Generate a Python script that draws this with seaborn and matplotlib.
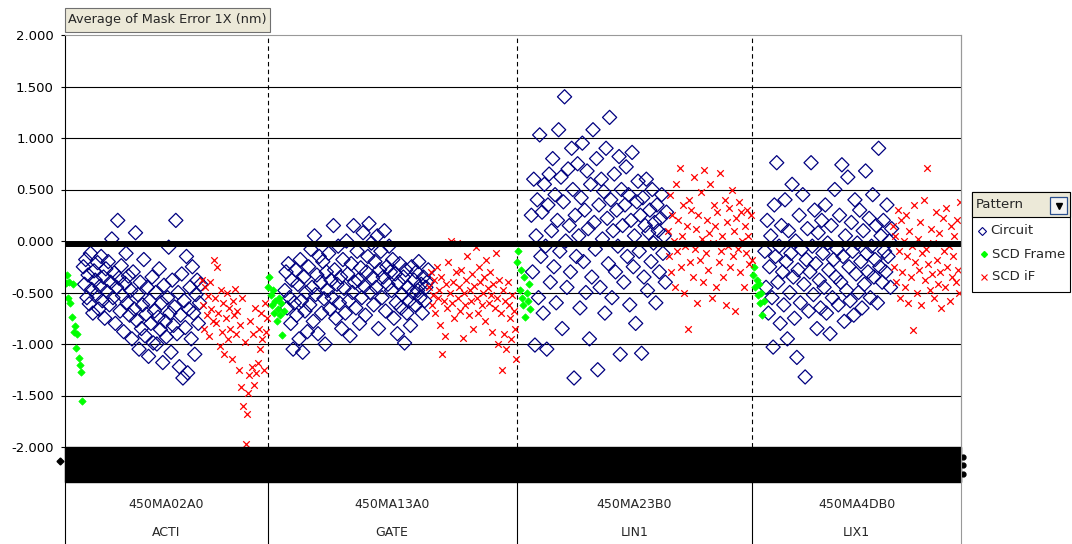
import numpy as np
import pandas as pd
import matplotlib.pyplot as plt
import seaborn as sns
from matplotlib.lines import Line2D
from matplotlib.patches import Rectangle

# category axis: lot / layer
lots = ["450MA02A0", "450MA13A0", "450MA23B0", "450MA4DB0"]
layers = ["ACTI", "GATE", "LIN1", "LIX1"]

# Average of Mask Error 1X (nm), left to right in each group
frame_acti = [-0.41, -0.33, -0.55, -0.40, -0.60, -0.74, -0.42, -0.88, -0.83, -1.04,
              -0.90, -1.14, -1.20, -1.27, -1.55]
circuit_acti = [-0.25, -0.42, -0.18, -0.55, -0.33, -0.61, -0.12, -0.47, -0.70, -0.29,
                -0.38, -0.52, -0.21, -0.66, -0.44, -0.15, -0.58, -0.35, -0.75, -0.27,
                -0.49, -0.20, -0.62, -0.40, 0.02, -0.55, -0.31, -0.80, -0.45, 0.20,
                -0.36, -0.68, -0.24, -0.53, -0.88, -0.41, -0.12, -0.60, -0.34, -0.72,
                -0.48, -0.95, -0.30, -0.66, 0.08, -0.77, -0.52, -1.05, -0.40, -0.85,
                -0.62, -0.18, -0.92, -0.71, -0.45, -1.12, -0.58, -0.80, -0.35, -0.99,
                -0.68, -0.50, -1.00, -0.74, -0.27, -0.86, -0.60, -1.18, -0.43, -0.78,
                -0.93, -0.55, -0.06, -0.70, -1.08, -0.38, -0.82, -0.64, 0.20, -0.90,
                -0.50, -1.22, -0.72, -0.32, -1.33, -0.58, -0.84, -0.15, -1.28, -0.66,
                -0.45, -0.95, -0.25, -0.70, -1.10, -0.52, -0.38, -0.80, -0.60, -0.42]
scdif_acti = [-0.38, -0.62, -0.85, -0.45, -0.72, -0.53, -0.92, -0.40, -0.66, -0.78,
              -0.18, -0.55, -0.80, -0.25, -0.70, -1.02, -0.48, -0.88, -0.60, -1.10,
              -0.75, -0.50, -0.95, -0.65, -0.85, -1.15, -0.58, -0.72, -0.47, -0.90,
              -0.68, -1.25, -0.82, -1.42, -0.55, -1.60, -0.98, -1.97, -1.68, -1.48,
              -1.30, -0.78, -1.22, -0.90, -1.40, -0.65, -1.28, -1.18, -0.85, -1.05,
              -0.70, -0.95, -1.25, -0.60, -0.88, -0.75]

frame_gate = [-0.45, -0.35, -0.52, -0.62, -0.48, -0.70, -0.58, -0.78, -0.66, -0.55,
              -0.72, -0.60, -0.91, -0.68]
circuit_gate = [-0.48, -0.30, -0.65, -0.22, -0.55, -0.80, -0.38, -1.05, -0.60, -0.28,
                -0.72, -0.42, -0.95, -0.18, -0.58, -1.08, -0.35, -0.68, -0.50, -0.88,
                -0.25, -0.62, -0.08, -0.45, -0.78, 0.05, -0.52, -0.33, -0.90, -0.15,
                -0.40, -0.70, -0.20, -0.56, -1.00, -0.30, -0.48, -0.12, -0.66, -0.38,
                -0.55, 0.15, -0.28, -0.75, -0.42, -0.05, -0.60, -0.35, -0.85, -0.18,
                -0.46, -0.70, 0.00, -0.32, -0.58, -0.92, -0.22, -0.50, 0.15, -0.40,
                -0.65, -0.10, -0.38, -0.80, -0.26, -0.55, 0.08, -0.44, -0.72, -0.30,
                -0.15, 0.17, -0.50, -0.02, -0.36, -0.62, -0.20, -0.45, 0.05, -0.85,
                -0.28, -0.10, -0.55, -0.35, 0.10, -0.68, -0.25, -0.42, -0.05, -0.30,
                -0.48, -0.18, -0.75, -0.32, -0.60, -0.90, -0.40, -0.22, -0.65, -0.52,
                -0.35, -0.99, -0.28, -0.70, -0.45, -0.58, -0.82, -0.25, -0.50, -0.38,
                -0.62, -0.30, -0.48, -0.20, -0.55, -0.42, -0.70, -0.35, -0.58, -0.45,
                -0.40, -0.28]
scdif_gate = [-0.45, -0.30, -0.62, -0.52, -0.38, -0.70, -0.25, -0.55, -0.48, -0.82,
              -0.35, -1.10, -0.58, -0.92, -0.42, -0.65, -0.20, -0.50, 0.00, -0.60,
              -0.40, -0.75, -0.30, -0.02, -0.55, -0.45, -0.68, -0.28, -0.94, -0.50,
              -0.62, -0.38, -0.15, -0.72, -0.48, -0.58, -0.32, -0.85, -0.44, -0.06,
              -0.55, -0.70, -0.25, -0.40, -0.62, -0.50, -0.35, -0.78, -0.18, -0.46,
              -0.60, -0.30, -0.52, -0.88, -0.42, -0.65, -0.12, -0.55, -1.00, -0.38,
              -0.70, -1.25, -0.48, -0.90, -0.58, -1.05, -0.40, -0.62, -0.75, -0.95,
              -0.52, -0.68, -0.85, -1.15]

frame_lin1 = [-0.20, -0.10, -0.48, -0.28, -0.55, -0.62, -0.35, -0.74, -0.50, -0.58,
              -0.42, -0.66]
circuit_lin1 = [0.25, -0.30, 0.60, -1.01, 0.05, 0.40, -0.55, 1.03, -0.15, 0.28,
                -0.70, 0.55, -0.05, -1.05, 0.35, 0.65, -0.40, 0.10, 0.80, -0.25,
                0.45, -0.60, 0.20, 1.08, -0.10, 0.62, -0.85, 0.38, 1.40, 0.00,
                -0.45, 0.70, 0.15, -0.30, 0.90, 0.50, -1.33, 0.25, -0.15, 0.75,
                0.05, -0.65, 0.42, 0.95, -0.20, 0.30, -0.50, 0.68, 0.12, -0.95,
                0.55, -0.35, 1.08, 0.18, -0.08, 0.80, -1.25, 0.35, -0.45, 0.60,
                0.02, 0.48, -0.70, 0.90, 0.22, -0.22, 1.20, 0.40, -0.55, 0.10,
                0.65, -0.30, 0.30, -0.05, 0.82, -1.10, 0.50, 0.15, -0.40, 0.35,
                0.72, -0.15, 0.45, -0.62, 0.20, 0.86, -0.25, 0.05, -0.80, 0.38,
                0.58, -0.10, 0.25, -1.09, 0.42, -0.35, 0.15, 0.60, -0.48, 0.08,
                0.30, -0.20, 0.50, -0.02, 0.18, -0.60, 0.35, 0.10, -0.30, 0.22,
                0.45, -0.12, 0.05, -0.40, 0.28]
scdif_lin1 = [0.10, -0.15, 0.45, -0.30, 0.25, 0.00, -0.45, 0.55, -0.10, 0.20,
              0.71, -0.25, 0.05, 0.35, -0.50, -0.05, 0.15, -0.85, 0.40, -0.20,
              0.30, -0.35, 0.62, -0.08, 0.12, -0.60, 0.25, -0.18, 0.48, 0.02,
              -0.40, 0.69, -0.12, 0.20, -0.28, 0.08, 0.55, -0.55, -0.02, 0.35,
              0.15, -0.45, 0.28, -0.20, 0.66, -0.10, 0.05, -0.35, 0.40, -0.62,
              0.18, -0.05, 0.32, -0.25, 0.50, -0.15, 0.10, -0.68, 0.22, -0.08,
              0.38, -0.30, 0.28, 0.00, -0.45, 0.15, -0.12, 0.30, 0.05, -0.22,
              0.25, -0.18]

frame_lix1 = [-0.33, -0.25, -0.45, -0.38, -0.52, -0.42, -0.60, -0.50, -0.72, -0.58]
circuit_lix1 = [-0.10, -0.45, 0.20, -0.70, -0.25, 0.05, -0.55, -1.03, 0.35, -0.15,
                0.76, -0.40, -0.05, -0.80, 0.15, -0.30, -0.62, 0.40, -0.20, -0.95,
                0.10, -0.50, -0.12, 0.55, -0.35, -0.75, 0.00, -1.13, -0.28, 0.25,
                -0.60, -0.08, 0.45, -0.42, -1.32, -0.18, 0.12, -0.68, -0.30, 0.76,
                -0.05, -0.52, 0.30, -0.22, -0.85, 0.08, -0.38, -0.65, 0.20, -0.12,
                -0.45, 0.35, -0.70, -0.02, -0.28, -0.90, 0.15, -0.55, -0.18, 0.50,
                -0.35, -0.08, -0.62, 0.25, -0.40, 0.74, -0.15, -0.78, 0.05, -0.48,
                0.62, -0.25, -0.58, 0.18, -0.10, -0.72, 0.40, -0.32, -0.02, -0.50,
                0.30, -0.20, -0.65, 0.10, -0.42, 0.68, -0.12, -0.30, 0.22, -0.55,
                -0.05, 0.45, -0.35, -0.18, 0.15, -0.60, 0.90, -0.25, 0.05, -0.40,
                0.20, -0.10, -0.30, 0.35, -0.15, 0.00, -0.45, 0.12]
scdif_lix1 = [0.15, -0.25, 0.05, -0.40, 0.30, -0.10, -0.55, 0.20, -0.30, 0.00,
              -0.45, 0.25, -0.15, -0.60, 0.10, -0.35, -0.05, -0.86, 0.35, -0.20,
              -0.50, 0.02, -0.28, 0.18, -0.62, -0.12, 0.40, -0.38, -0.08, 0.71,
              -0.22, -0.48, 0.12, -0.32, -0.02, -0.55, 0.28, -0.18, -0.42, 0.08,
              -0.30, -0.65, 0.22, -0.10, -0.45, 0.32, -0.25, -0.05, -0.58, 0.15,
              -0.35, -0.15, 0.05, -0.40, 0.20, -0.28, -0.50, 0.38]

series = [(frame_acti, circuit_acti, scdif_acti),
          (frame_gate, circuit_gate, scdif_gate),
          (frame_lin1, circuit_lin1, scdif_lin1),
          (frame_lix1, circuit_lix1, scdif_lix1)]

# long table, one row per category position
rows = []
pos = 0
bounds = [0]
for layer, (fr, ci, sf) in zip(layers, series):
    for name, vals in (("SCD Frame", fr), ("Circuit", ci), ("SCD iF", sf)):
        for v in vals:
            rows.append((pos, v, name, layer))
            pos += 1
    bounds.append(pos)
df = pd.DataFrame(rows, columns=["idx", "err", "pattern", "layer"])

sns.set_style("white")
plt.rcParams["font.family"] = ["DejaVu Sans"]

W, H = 1072, 544
fig = plt.figure(figsize=(W / 100, H / 100), dpi=100)
ax = fig.add_axes([65 / W, 97 / H, 896 / W, 412 / H])

# series (Excel order: Circuit, SCD Frame, SCD iF)
sns.scatterplot(data=df[df.pattern == "Circuit"], x="idx", y="err", marker="D", s=52,
                facecolor="none", edgecolor="#000080", linewidth=0.9, ax=ax, zorder=2)
sns.scatterplot(data=df[df.pattern == "SCD Frame"], x="idx", y="err", marker="D", s=14,
                color="#00FF00", edgecolor="#00FF00", linewidth=0.5, ax=ax, zorder=2.1)
sns.scatterplot(data=df[df.pattern == "SCD iF"], x="idx", y="err", marker="x", s=22,
                color="#FF0000", linewidth=0.9, ax=ax, zorder=2.2)

ax.set_xlim(-0.5, pos - 0.5)
ax.set_ylim(-2, 2)
ax.set_xticks([])
ax.set_xlabel("")
ax.set_ylabel("")
yt = np.arange(-2, 2.01, 0.5)
ax.set_yticks(yt)
ax.set_yticklabels(["%.3f" % v for v in yt])
ax.tick_params(axis="y", length=3, width=0.8, pad=5, labelsize=9.5, left=True,
               colors="black")

for yv in [-1.5, -1.0, -0.5, 0.5, 1.0, 1.5]:
    ax.axhline(yv, color="black", lw=0.8, zorder=0.5)
# category axis at zero with its dense tick marks
ax.axhline(-0.026, color="black", lw=4.3, zorder=3)

for b in bounds[1:-1]:
    ax.axvline(b - 0.5, color="black", lw=0.8, ls=(0, (4, 3)), zorder=1)

for side in ["top", "right"]:
    ax.spines[side].set_color("#999999")
    ax.spines[side].set_linewidth(0.8)
ax.spines["left"].set_color("black")
ax.spines["left"].set_linewidth(0.8)
ax.spines["bottom"].set_visible(False)

# overlapping category tick labels -> black band
ax.add_patch(Rectangle((0, -35 / 412), 1, 35 / 412, transform=ax.transAxes,
                       color="black", clip_on=False, zorder=3))
ax.plot([-0.006], [-14 / 412], marker="D", ms=3.5, color="black",
        transform=ax.transAxes, clip_on=False)
for yy in [-10, -18, -27]:
    ax.plot([1.002], [yy / 412], marker="o", ms=3.5, color="black",
            transform=ax.transAxes, clip_on=False)

# lower category area: separators and labels
fig.add_artist(Line2D([65 / W, 65 / W], [0, 97 / H], color="black", lw=0.8))
fig.add_artist(Line2D([961 / W, 961 / W], [0, 509 / H], color="#999999", lw=0.8))
for b in bounds[1:-1]:
    xb = (65 + b / pos * 896) / W
    fig.add_artist(Line2D([xb, xb], [0, 62 / H], color="black", lw=0.8))
for i in range(len(layers)):
    xc = (65 + (bounds[i] + bounds[i + 1]) / 2 / pos * 896) / W
    fig.text(xc, (H - 505) / H, lots[i], ha="center", va="center", fontsize=9)
    fig.text(xc, (H - 533) / H, layers[i], ha="center", va="center", fontsize=9)

# field button for the data field
fig.patches.append(Rectangle((65 / W, (H - 32) / H), 205 / W, 24 / H,
                             transform=fig.transFigure, facecolor="#ECE9D8",
                             edgecolor="#707070", lw=0.8))
fig.text(68 / W, (H - 20) / H, "Average of Mask Error 1X (nm)", ha="left",
         va="center", fontsize=9.3)

# pivot legend with field header
fig.patches.append(Rectangle((972 / W, (H - 292) / H), 98 / W, 100 / H,
                             transform=fig.transFigure, facecolor="white",
                             edgecolor="black", lw=0.8))
fig.patches.append(Rectangle((972 / W, (H - 217) / H), 98 / W, 25 / H,
                             transform=fig.transFigure, facecolor="#ECE9D8",
                             edgecolor="black", lw=0.8))
fig.text(976 / W, (H - 204) / H, "Pattern", ha="left", va="center", fontsize=9.5)
fig.patches.append(Rectangle((1050 / W, (H - 214) / H), 17 / W, 17 / H,
                             transform=fig.transFigure, facecolor="#F4F4F4",
                             edgecolor="#2A4E8C", lw=0.9))
fig.add_artist(Line2D([1058.5 / W], [(H - 206) / H], marker="v", ms=4.5,
                      color="black", ls="none"))
fig.add_artist(Line2D([982 / W], [(H - 231) / H], marker="D", ms=4.5, mfc="none",
                      mec="#000080", mew=0.8, ls="none"))
fig.add_artist(Line2D([984 / W], [(H - 254) / H], marker="D", ms=3, color="#00FF00",
                      ls="none"))
fig.add_artist(Line2D([984 / W], [(H - 277) / H], marker="x", ms=4.5, color="#FF0000",
                      mew=0.8, ls="none"))
fig.text(990 / W, (H - 231) / H, "Circuit", ha="left", va="center", fontsize=9.5)
fig.text(992 / W, (H - 254) / H, "SCD Frame", ha="left", va="center", fontsize=9.5)
fig.text(992 / W, (H - 277) / H, "SCD iF", ha="left", va="center", fontsize=9.5)

fig.savefig("out.png", dpi=100)
